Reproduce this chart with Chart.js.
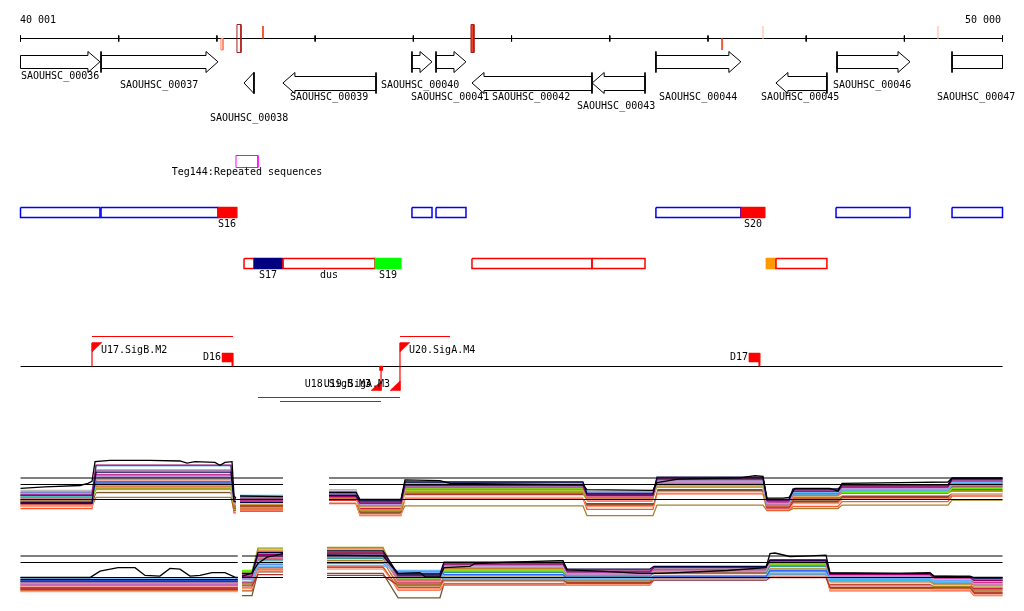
<!DOCTYPE html>
<html>
<head>
<meta charset="utf-8">
<title>SAOUHSC 40 001 - 50 000</title>
<script src="https://cdn.jsdelivr.net/npm/chart.js@4.4.0/dist/chart.umd.min.js"></script>
<style>
  html, body { margin: 0; padding: 0; background: #fff; }
  canvas { display: block; }
</style>
</head>
<body>
<canvas id="genomeView" width="1024" height="611"></canvas>
<script>
// REGION
const regionStart = 40001;
const regionEnd = 50000;
const axisTicks = [40001, 41001, 42001, 43001, 44001, 45001, 46001, 47001, 48001, 49001, 50000];

// GENES
const geneNames = ["SAOUHSC_00036", "SAOUHSC_00037", "SAOUHSC_00038", "SAOUHSC_00039", "SAOUHSC_00040", "SAOUHSC_00041",
  "SAOUHSC_00042", "SAOUHSC_00043", "SAOUHSC_00044", "SAOUHSC_00045", "SAOUHSC_00046", "SAOUHSC_00047"];
const geneStarts = [39940, 40821, 42277, 42673, 43987, 44232, 44598, 45822, 46471, 47693, 48315, 49486];
const geneEnds = [40810, 42012, 42378, 43621, 44191, 44537, 45820, 46360, 47336, 48212, 49058, 50420];
const geneStrands = [1, 1, -1, -1, 1, 1, -1, -1, 1, -1, 1, 1];
const geneLabelPos = [40001, 41014, 41930, 42745, 43672, 43978, 44802, 45667, 46502, 47540, 48274, 49333];
const geneLabelLane = [0, 1, 4, 2, 1, 2, 2, 3, 2, 2, 1, 2];

// SITES ON THE COORDINATE LINE
const siteStarts = [42042, 42205, 42470, 44588, 47145, 47561, 49343];
const siteEnds = [42063, 42246, 42470, 44618, 47145, 47611, 49343];
const siteSides = ["down", "both", "up", "both", "down", "up", "up"];
const siteKinds = ["light", "dark", "mid", "darkfill", "mid", "pale", "pale"];

// REPEAT
const repeatName = "Teg144:Repeated sequences";
const repeatStart = 42195;
const repeatEnd = 42419;

// TRANSCRIBED SEGMENTS
const segStarts = [40001, 40821, 42012, 43987, 44232, 46471, 47336, 48305, 49486, 42277, 42378, 42673, 43611, 44598, 45820, 47591, 47693];
const segEnds = [40810, 42012, 42205, 44191, 44537, 47336, 47581, 49058, 50000, 42378, 42673, 43611, 43876, 45820, 46360, 47693, 48212];
const segRows = [0, 0, 0, 0, 0, 0, 0, 0, 0, 1, 1, 1, 1, 1, 1, 1, 1];
const segKinds = ["open", "open", "red", "open", "open", "open", "red", "open", "open", "open", "navy", "open", "green", "open", "open", "orange", "open"];
const segLabels = ["", "", "S16", "", "", "", "S20", "", "", "", "S17", "dus", "S19", "", "", "", ""];

// PROMOTERS / TERMINATORS
const promoterNames = ["U17.SigB.M2", "U20.SigA.M4", "U18.SigB.M3", "U19.SigA.M3"];
const promoterPos = [40729, 43865, 43672, 43865];
const promoterStrands = [1, 1, -1, -1];
const promoterSpanEnds = [42165, 44374, 42643, 42419];
const promoterSpanLane = [0, 0, 2, 1];
const terminatorNames = ["D16", "D17"];
const terminatorPos = [42165, 47530];

// EXPRESSION, PANEL 1 (intervals A1 A2 A3 | B | C1..C9)
const expr1Starts = [40001, 40770, 42175, 42236, 43142, 43458, 43916, 45769, 46482, 47602, 47867, 48366, 49486];
const expr1Ends = [40729, 42144, 42195, 42674, 43417, 43875, 45728, 46441, 47561, 47826, 48325, 49445, 50000];
const expr1NewSeg = [1, 0, 0, 1, 1, 0, 0, 0, 0, 0, 0, 0, 0];
const expr1Navy = [-0.5, 3.9, -0.3, -0.4, 0.6, -0.2, 2.5, 0.8, 3.2, 0.0, 1.5, 2.1, 3.0];
const expr1Purple = [0.6, 4.9, 0.1, 0.0, 0.4, -0.5, 2.0, 0.6, 2.9, -0.2, 1.2, 1.8, 2.8];
const expr1LightBlue = [0.9, 4.8, 0.2, 0.5, 0.8, -0.4, 2.2, 1.1, 2.6, -0.6, 1.0, 1.4, 2.4];
const expr1Lilac = [1.1, 3.3, -0.2, 0.3, 1.2, -0.7, 1.9, 0.9, 2.5, -0.3, 1.3, 1.6, 2.7];
const expr1Orange = [0.3, 2.6, -0.8, -0.2, 0.2, -1.0, 1.5, 0.3, 2.3, -0.8, 0.6, 1.2, 2.2];
const expr1Vermilion = [-0.2, 2.2, -1.0, -0.6, -0.1, -1.4, 1.2, 0.0, 2.0, -1.0, 0.2, 0.9, 1.8];
const expr1Green = [0.4, 1.7, -0.4, 0.1, 0.5, -0.9, 1.6, 0.5, 2.1, -0.5, 0.8, 1.0, 1.6];
const expr1Olive = [0.1, 1.4, -1.2, -0.9, 0.0, -1.6, 1.0, -0.3, 1.7, -1.1, 0.1, 0.6, 1.3];
const expr1Brown = [-0.9, 0.3, -1.6, -1.7, -0.5, -2.0, -0.9, -2.3, -0.8, -1.6, -1.3, -0.8, -0.1];
const expr1Salmon = [-1.0, 2.4, -1.4, -1.2, -0.4, -2.2, 0.4, -1.0, 1.1, -1.4, -0.6, 0.2, 0.9];
const expr1Maroon = [-0.6, 2.0, -0.6, -0.8, 0.3, -1.2, 0.7, -0.6, 1.4, -1.2, -0.3, 0.4, 1.1];
const expr1Magenta = [0.7, 3.6, 0.0, -0.1, 0.7, -0.6, 1.8, 0.7, 2.7, -0.4, 0.9, 1.5, 2.5];
const expr1Gray = [1.3, 3.0, -0.5, 0.2, 1.4, -0.1, 2.4, 1.2, 2.8, 0.0, 1.4, 1.9, 2.9];
const expr1White = [0.2, 1.2, -0.7, -0.5, -0.3, -1.1, 0.5, -0.4, 1.6, -0.7, 0.4, 0.7, 1.0];
const expr1Tomato = [-1.3, 1.9, -1.9, -1.5, -0.6, -2.3, 0.2, -1.4, 0.8, -1.5, -1.0, -0.3, 0.5];
const expr1DarkBrown = [-0.3, 1.0, -1.3, -1.0, 0.1, -1.8, 0.9, -0.8, 1.3, -0.9, -0.1, 0.3, 1.4];
const expr1Cyan = [0.5, 2.9, 0.3, 0.6, 0.9, -0.3, 2.1, 1.0, 2.2, -0.2, 0.7, 1.3, 2.0];
const expr1Pink = [-0.8, 2.8, -1.1, -1.1, -0.2, -1.3, 1.3, -0.2, 1.9, -1.3, 0.0, 0.8, 1.7];
const expr1Sand = [-0.1, 1.5, -0.9, -0.7, 0.4, -1.5, 1.1, 0.2, 1.8, -0.9, 0.5, 1.1, 2.1];
const expr1Teal = [0.0, 2.3, -0.6, -0.3, 0.5, -0.8, 1.4, 0.4, 2.4, -0.6, 0.7, 1.3, 2.3];
const expr1Crimson = [-0.4, 3.1, -0.9, -0.9, -0.2, -1.3, 1.7, 0.1, 2.6, -1.1, 0.3, 1.0, 1.9];
const expr1Lime = [0.8, 2.0, -0.3, 0.0, 0.6, -1.0, 1.3, 0.6, 2.0, -0.4, 1.1, 1.2, 2.4];
const expr1Blue = [0.6, 2.5, 0.0, 0.4, 1.1, -0.2, 2.0, 0.9, 2.9, -0.1, 1.0, 1.7, 2.6];
const expr1Rust = [-0.7, 1.6, -1.5, -1.3, -0.3, -1.9, 0.6, -0.7, 1.2, -1.3, -0.5, 0.1, 0.8];
const expr1Rose = [0.2, 3.4, -0.4, -0.2, 0.3, -0.9, 1.7, 0.4, 2.4, -0.7, 0.6, 1.4, 2.5];
const expr1Khaki = [-0.2, 1.1, -1.0, -0.8, -0.1, -1.7, 0.8, -0.5, 1.5, -1.0, 0.2, 0.5, 1.2];
const expr1Plum = [1.0, 4.2, 0.1, 0.2, 0.9, -0.5, 2.2, 1.0, 3.0, -0.2, 1.2, 2.0, 2.9];
// black trace of panel 1 (null = gap)
const expr1TracePos = [40001, 40250, 40607, 40688, 40729, 40760, 40912, 41320, 41625, 41696, 41778, 41981, 42032, 42083, 42155, 42175, 42195, 42195,
  42236, 42674, 42674,
  43142, 43417, 43458, 43875, 43916, 44272, 44374, 45728, 45769, 46441, 46482, 46696, 47327, 47480, 47561,
  47602, 47765, 47826, 47887, 48243, 48325, 48366, 48956, 49445, 49486, 50000];
const expr1TraceVal = [1.6, 1.8, 2.0, 2.3, 2.6, 5.4, 5.6, 5.6, 5.5, 5.2, 5.4, 5.3, 4.9, 5.3, 5.4, 0.5, 0.2, null,
  0.5, 0.4, null,
  1.0, 1.0, 0.0, 0.0, 2.8, 2.7, 2.3, 2.1, 1.4, 1.3, 2.4, 2.9, 3.1, 3.4, 3.3,
  0.2, 0.2, 0.3, 1.6, 1.6, 1.2, 2.3, 2.4, 2.5, 3.1, 3.1];

// EXPRESSION, PANEL 2 (intervals A | B1 B2 | C1..C9)
const expr2Starts = [40001, 42256, 42419, 43122, 43845, 44313, 45566, 46451, 47632, 48243, 49302, 49710];
const expr2Ends = [42213, 42358, 42674, 43692, 44272, 45525, 46410, 47592, 48203, 49262, 49669, 50000];
const expr2NewSeg = [1, 1, 0, 1, 0, 0, 0, 0, 0, 0, 0, 0];
const expr2Navy = [-0.3, 0.6, 3.6, 3.8, 0.5, 2.2, 1.2, 1.6, 2.5, 0.6, 0.2, -0.1];
const expr2Purple = [-0.6, 0.2, 3.3, 3.5, 0.3, 1.9, 0.9, 1.4, 2.4, 0.4, 0.0, -0.4];
const expr2LightBlue = [-0.2, -0.6, 1.6, 1.7, 1.0, -0.1, -0.2, -0.3, 0.5, -0.2, -0.5, -0.2];
const expr2Lilac = [-0.9, -0.2, 2.9, 3.0, 0.0, 1.5, 0.5, 0.9, 2.2, 0.1, -0.6, -0.9];
const expr2Orange = [-0.8, 0.4, 3.9, 4.1, -0.3, 1.2, 0.3, 1.0, 2.0, -0.3, -0.8, -1.1];
const expr2Vermilion = [-1.3, -0.5, 2.6, 2.8, -0.8, 0.8, 0.0, 0.6, 1.7, -0.7, -1.0, -1.5];
const expr2Green = [-0.4, 1.0, 3.4, 3.7, -0.1, 1.0, 0.4, 1.2, 1.9, -0.1, -0.4, -0.6];
const expr2Olive = [-1.1, 0.8, 4.2, 4.3, -0.5, 1.3, 0.6, 0.7, 2.1, -0.5, -0.9, -1.3];
const expr2Brown = [-1.5, -0.9, 2.2, 2.4, -1.2, 0.5, -0.5, 0.2, 1.4, -1.0, -1.3, -1.8];
const expr2Salmon = [-2.0, -1.6, 1.0, 1.2, -1.6, -0.6, -1.0, -0.2, 0.2, -1.8, -1.7, -2.5];
const expr2Maroon = [-1.7, -1.2, 0.4, 0.3, -1.1, -0.2, -0.8, -0.4, 0.0, -1.4, -1.4, -2.1];
const expr2Magenta = [-1.0, 0.0, 3.0, 3.2, 0.2, 1.7, 0.7, 1.1, 2.3, 0.2, -0.2, -0.7];
const expr2Gray = [-0.7, 0.3, 2.0, 2.2, 0.4, 1.8, 1.0, 1.3, 2.4, 0.3, -0.3, -0.5];
const expr2White = [-1.2, -0.4, 2.4, 2.6, -0.6, 0.6, 0.1, 0.5, 1.5, -0.8, -1.1, -1.2];
const expr2Tomato = [-1.9, -1.5, 1.4, 1.6, -1.8, -1.1, -1.1, -0.3, 0.6, -1.9, -1.9, -2.6];
const expr2DarkBrown = [-1.6, -2.6, 0.8, 0.6, -2.9, -0.9, -0.9, -0.1, 0.4, -1.6, -1.6, -2.3];
const expr2Cyan = [-0.5, -0.3, 1.8, 2.0, 0.6, -0.3, -0.3, 0.0, 0.8, -0.4, -0.7, -0.3];
const expr2Pink = [-1.4, -0.8, 2.8, 3.0, -0.9, 0.3, -0.4, 0.4, 1.2, -1.2, -1.2, -1.9];
const expr2Sand = [-1.0, -0.1, 3.1, 3.4, -0.4, 0.9, 0.2, 0.8, 1.8, -0.6, -1.0, -1.4];
const expr2Teal = [-0.8, 0.1, 2.5, 2.7, -0.2, 0.7, 0.2, 0.6, 1.6, -0.4, -0.7, -1.0];
const expr2Crimson = [-1.5, -0.7, 2.9, 3.1, -0.7, 1.0, 0.1, 0.7, 1.9, -0.9, -1.1, -1.6];
const expr2Lime = [-0.3, 0.7, 3.7, 3.9, 0.1, 1.1, 0.5, 1.1, 2.0, 0.0, -0.3, -0.8];
const expr2Blue = [-0.4, -0.1, 1.9, 2.1, 0.8, 0.4, 0.0, 0.1, 1.0, -0.1, -0.4, -0.3];
const expr2Rust = [-1.8, -1.9, 1.2, 1.4, -1.4, -0.4, -0.7, 0.0, 0.9, -1.5, -1.5, -2.2];
const expr2Rose = [-1.1, -0.6, 2.7, 2.9, -0.5, 1.4, 0.4, 0.9, 2.1, -0.2, -0.5, -1.0];
const expr2Khaki = [-1.3, -1.0, 3.5, 3.6, -1.0, 0.2, -0.3, 0.3, 1.3, -1.1, -1.2, -1.7];
const expr2Plum = [-0.6, 0.5, 3.2, 3.3, 0.1, 2.0, 0.8, 1.5, 2.3, 0.5, 0.1, -0.4];
// black trace of panel 2 (null = gap)
const expr2TracePos = [40001, 40709, 40811, 40994, 41167, 41269, 41421, 41523, 41625, 41727, 41829, 41951, 42083, 42195, 42213, 42213,
  42256, 42358, 42419, 42511, 42674, 42674,
  43122, 43692, 43845, 44069, 44120, 44272, 44313, 44578, 44629, 44985, 45494, 45525, 45566, 45902, 46309, 46512, 47200, 47592,
  47632, 47683, 47836, 48040, 48203, 48243, 48956, 49262, 49302, 49669, 49710, 50000];
const expr2TraceVal = [0.0, 0.0, 0.9, 1.4, 1.4, 0.3, 0.2, 1.3, 1.2, 0.2, 0.3, 0.7, 0.7, 0.0, 0.0, null,
  0.2, 0.6, 2.0, 2.9, 3.4, null,
  3.2, 3.1, 0.6, 0.7, 0.1, 0.1, 1.4, 1.6, 2.0, 2.2, 2.4, 2.4, 1.1, 0.9, 0.6, 0.6, 1.0, 1.4,
  3.4, 3.5, 3.0, 3.1, 3.2, 0.7, 0.6, 0.7, 0.2, 0.1, 0.0, 0.0];

// reference lines of both panels
const thresholdLevels = [0, 2.14, 3.07];
const thr1Starts = [40001, 43142];
const thr1Ends = [42674, 50000];
const thr2Starts = [40001, 42256, 43122];
const thr2Ends = [42213, 42674, 50000];

// LAYOUT AND STYLE
const W = 1024, H = 611;
const X_PX_START = 20.5, X_PX_END = 1002.5;
const bpPerPx = (regionEnd - regionStart) / (X_PX_END - X_PX_START);
const xMin = regionStart - X_PX_START * bpPerPx;
const xMax = xMin + W * bpPerPx;
const bp = (n) => n * bpPerPx;
const FONT = '10px "DejaVu Sans Mono", monospace';

const AXIS_Y = 38.5;
const ROWS = [
  { headTop: 51.5, bodyTop: 55.5, mid: 61.8, bodyBot: 68.5, headBot: 72.5 },
  { headTop: 72.5, bodyTop: 76.5, mid: 83, bodyBot: 90.5, headBot: 93.5 },
];
const LABEL_LANES = [76, 85, 97, 106, 118];
const HEAD_PX = 12;
const SEG_ROWS = [{ top: 207.5, bot: 217.5, label: 224, line: "#0000ff" }, { top: 258.5, bot: 268.5, label: 275, line: "#ff0000" }];
const SEG_FILL = { red: "#ff0000", navy: "#000080", green: "#00ff00", orange: "#ff9900" };
const SITE_STYLE = {
  light: { color: "#ff8060", w: 1, box: true },
  dark: { color: "#aa1a1a", w: 1, box: true },
  mid: { color: "#f05a3c", w: 2, box: false },
  darkfill: { color: "#aa1a1a", w: 1, box: true, fill: "#ee4422" },
  pale: { color: "#ffd9c8", w: 2, box: false },
};
const SITE_Y = { up: [26, 38.5], down: [38.5, 50], both: [24.5, 52.5] };
const PROM_BASE = 366.5;
const SPAN_LANES = [336.5, 397.5, 401.5];
const EXPR_UNIT = 7;
const EXPR1_BASE = 499.5, EXPR2_BASE = 577.5;
const EXPR_WIDTH = 1.3;

const datasets = [];
function pushLine(points, color, width, axis, fillColor) {
  datasets.push({
    type: "line",
    data: points,
    yAxisID: axis || "y",
    borderColor: color,
    borderWidth: width,
    backgroundColor: fillColor || "rgba(0,0,0,0)",
    fill: fillColor ? "shape" : false,
    pointRadius: 0,
    tension: 0,
    spanGaps: false,
    order: -datasets.length,
  });
}
const P = (x, y) => ({ x: x, y: y });
const GAP = { x: regionStart, y: null };
function rect(x1, x2, y1, y2) {
  return [P(x1, y1), P(x2, y1), P(x2, y2), P(x1, y2), P(x1, y1)];
}

// EXPRESSION LINES
function intervalPoints(starts, ends, newSeg, levels) {
  const pts = [];
  levels.forEach((v, i) => {
    if (newSeg[i] && pts.length) pts.push(GAP);
    pts.push(P(starts[i], v), P(ends[i], v));
  });
  return pts;
}
const panel1 = [
  [expr1Brown, "#a8802a"], [expr1Tomato, "#ff5533"], [expr1Rust, "#bb5511"], [expr1Salmon, "#ff9977"],
  [expr1Pink, "#ff88aa"], [expr1Khaki, "#bbaa55"], [expr1Maroon, "#aa3333"], [expr1DarkBrown, "#775533"],
  [expr1Olive, "#999900"], [expr1Vermilion, "#e8502a"], [expr1Crimson, "#cc2244"], [expr1White, "#ffffff"],
  [expr1Sand, "#cc9944"], [expr1Teal, "#339999"], [expr1Orange, "#dd7722"], [expr1Green, "#66ee00"],
  [expr1Lime, "#aacc33"], [expr1Cyan, "#33bbee"], [expr1Rose, "#dd6688"], [expr1Magenta, "#cc3399"],
  [expr1Blue, "#3366ff"], [expr1Lilac, "#bb99dd"], [expr1Gray, "#bbbbbb"], [expr1Plum, "#885599"],
  [expr1LightBlue, "#66bbff"], [expr1Purple, "#990066"], [expr1Navy, "#000044"],
];
panel1.forEach(([levels, color]) => pushLine(intervalPoints(expr1Starts, expr1Ends, expr1NewSeg, levels), color, EXPR_WIDTH, "e1"));
pushLine(expr1TracePos.map((x, i) => P(x, expr1TraceVal[i])), "#000000", EXPR_WIDTH, "e1");

const panel2 = [
  [expr2DarkBrown, "#775533"], [expr2Tomato, "#ff5533"], [expr2Rust, "#bb5511"], [expr2Salmon, "#ff9977"],
  [expr2Pink, "#ff88aa"], [expr2Khaki, "#bbaa55"], [expr2Maroon, "#aa3333"], [expr2Brown, "#a8802a"],
  [expr2Olive, "#999900"], [expr2Vermilion, "#e8502a"], [expr2Crimson, "#cc2244"], [expr2White, "#ffffff"],
  [expr2Sand, "#cc9944"], [expr2Teal, "#339999"], [expr2Orange, "#dd7722"], [expr2Green, "#66ee00"],
  [expr2Lime, "#aacc33"], [expr2Cyan, "#33bbee"], [expr2Rose, "#dd6688"], [expr2Magenta, "#cc3399"],
  [expr2Blue, "#3366ff"], [expr2Lilac, "#bb99dd"], [expr2Gray, "#bbbbbb"], [expr2Plum, "#885599"],
  [expr2LightBlue, "#66bbff"], [expr2Purple, "#990066"], [expr2Navy, "#000044"],
];
panel2.forEach(([levels, color]) => pushLine(intervalPoints(expr2Starts, expr2Ends, expr2NewSeg, levels), color, EXPR_WIDTH, "e2"));
pushLine(expr2TracePos.map((x, i) => P(x, expr2TraceVal[i])), "#000000", EXPR_WIDTH, "e2");

function thresholdPoints(starts, ends) {
  const pts = [];
  thresholdLevels.forEach((lv) => {
    starts.forEach((s, i) => {
      pts.push(P(s, lv), P(ends[i], lv), GAP);
    });
  });
  return pts;
}
pushLine(thresholdPoints(thr1Starts, thr1Ends), "#000000", 1.2, "e1");
pushLine(thresholdPoints(thr2Starts, thr2Ends), "#000000", 1.2, "e2");

// COORDINATE LINE
const axisPts = [P(regionStart, AXIS_Y), P(regionEnd, AXIS_Y)];
axisTicks.forEach((t) => axisPts.push(GAP, P(t, 35.5), P(t, 41.5)));
pushLine(axisPts, "#000000", 1);

siteStarts.forEach((s, i) => {
  const st = SITE_STYLE[siteKinds[i]];
  const [y1, y2] = SITE_Y[siteSides[i]];
  if (st.box) {
    pushLine(rect(s, siteEnds[i], y1, y2), st.color, st.w, "y", st.fill);
  } else {
    pushLine([P(s, y1), P(s, y2)], st.color, st.w);
  }
});

// GENE ARROWS
geneNames.forEach((name, i) => {
  const fwd = geneStrands[i] > 0;
  const r = ROWS[fwd ? 0 : 1];
  const cutS = geneStarts[i] < regionStart;
  const cutE = geneEnds[i] > regionEnd;
  const s = Math.max(geneStarts[i], regionStart);
  const e = Math.min(geneEnds[i], regionEnd);
  const h = Math.min(bp(HEAD_PX), e - s);
  let pts;
  if (fwd) {
    pts = cutE ? rect(s, e, r.bodyTop, r.bodyBot)
      : [P(s, r.bodyTop), P(e - h, r.bodyTop), P(e - h, r.headTop), P(e, r.mid), P(e - h, r.headBot), P(e - h, r.bodyBot), P(s, r.bodyBot), P(s, r.bodyTop)];
    if (!cutS) pts.push(GAP, P(s, r.headTop), P(s, r.headBot));
  } else {
    pts = cutS ? rect(s, e, r.bodyTop, r.bodyBot)
      : [P(e, r.bodyTop), P(s + h, r.bodyTop), P(s + h, r.headTop), P(s, r.mid), P(s + h, r.headBot), P(s + h, r.bodyBot), P(e, r.bodyBot), P(e, r.bodyTop)];
    if (!cutE) pts.push(GAP, P(e, r.headTop), P(e, r.headBot));
  }
  pushLine(pts, "#000000", 1);
});

// REPEAT
pushLine(rect(repeatStart, repeatEnd, 155.5, 167.5), "#ff00ff", 1);

// SEGMENTS
segStarts.forEach((s, i) => {
  const row = SEG_ROWS[segRows[i]];
  const kind = segKinds[i];
  if (kind === "open") {
    pushLine(rect(s, segEnds[i], row.top, row.bot), row.line, 1.5);
  } else {
    pushLine(rect(s, segEnds[i], row.top - 0.5, row.bot + 0.5), SEG_FILL[kind], 0.5, "y", SEG_FILL[kind]);
  }
});

// PROMOTERS AND TERMINATORS
pushLine([P(regionStart, PROM_BASE), P(regionEnd, PROM_BASE)], "#000000", 1.2);
promoterPos.forEach((p, i) => {
  const fwd = promoterStrands[i] > 0;
  const spanY = SPAN_LANES[promoterSpanLane[i]];
  const a = Math.min(p, promoterSpanEnds[i]);
  const b = Math.max(p, promoterSpanEnds[i]);
  pushLine([P(a, spanY), P(b, spanY)], "#ff0000", 1.2);
  if (fwd) {
    pushLine([P(p, 343), P(p, PROM_BASE)], "#ff0000", 1.2);
    pushLine([P(p, 342.5), P(p + bp(10), 342.5), P(p, 352), P(p, 342.5)], "#ff0000", 0.5, "y", "#ff0000");
  } else {
    pushLine([P(p, PROM_BASE), P(p, 390.5)], "#ff0000", 1.2);
    pushLine([P(p, 390.5), P(p - bp(10), 390.5), P(p, 381), P(p, 390.5)], "#ff0000", 0.5, "y", "#ff0000");
  }
});
pushLine(rect(promoterPos[2] - bp(1.5), promoterPos[2] + bp(1.5), 366, 370.5), "#ff0000", 0.5, "y", "#ff0000");
terminatorPos.forEach((t) => {
  pushLine(rect(t - bp(11), t, 353, 362), "#ff0000", 0.5, "y", "#ff0000");
  pushLine([P(t - bp(0.5), 362), P(t - bp(0.5), PROM_BASE)], "#ff0000", 2);
});

// TEXT
const labels = [];
labels.push({ text: "40 001", pos: regionStart, dx: -0.5, y: 20, align: "left" });
labels.push({ text: "50 000", pos: regionEnd, dx: -2, y: 20, align: "right" });
geneNames.forEach((n, i) => labels.push({ text: n, pos: geneLabelPos[i], dx: 0, y: LABEL_LANES[geneLabelLane[i]], align: "left" }));
labels.push({ text: repeatName, pos: (repeatStart + repeatEnd) / 2, dx: 0, y: 172, align: "center" });
segLabels.forEach((l, i) => {
  if (l) labels.push({ text: l, pos: (segStarts[i] + segEnds[i]) / 2, dx: 0, y: SEG_ROWS[segRows[i]].label, align: "center" });
});
promoterNames.forEach((n, i) => {
  if (promoterStrands[i] > 0) labels.push({ text: n, pos: promoterPos[i], dx: 9, y: 350, align: "left" });
  else labels.push({ text: n, pos: promoterPos[i], dx: -10, y: 384, align: "right" });
});
terminatorNames.forEach((n, i) => labels.push({ text: n, pos: terminatorPos[i], dx: -12, y: 357, align: "right" }));

const labelPlugin = {
  id: "trackLabels",
  afterDatasetsDraw(chart) {
    const ctx = chart.ctx;
    const xs = chart.scales.x;
    const ys = chart.scales.y;
    ctx.save();
    ctx.font = FONT;
    ctx.fillStyle = "#000000";
    ctx.textBaseline = "middle";
    labels.forEach((l) => {
      ctx.textAlign = l.align;
      ctx.fillText(l.text, Math.round(xs.getPixelForValue(l.pos) + l.dx), Math.round(ys.getPixelForValue(l.y)));
    });
    ctx.restore();
  },
};

const e1Min = -(H - EXPR1_BASE) / EXPR_UNIT;
const e2Min = -(H - EXPR2_BASE) / EXPR_UNIT;

new Chart(document.getElementById("genomeView"), {
  type: "line",
  data: { datasets: datasets },
  options: {
    responsive: false,
    animation: false,
    events: [],
    layout: { padding: 0 },
    plugins: { legend: { display: false }, tooltip: { enabled: false } },
    scales: {
      x: { type: "linear", min: xMin, max: xMax, display: false },
      y: { type: "linear", min: 0, max: H, reverse: true, display: false },
      e1: { type: "linear", min: e1Min, max: e1Min + H / EXPR_UNIT, display: false },
      e2: { type: "linear", min: e2Min, max: e2Min + H / EXPR_UNIT, display: false },
    },
  },
  plugins: [labelPlugin],
});
</script>
</body>
</html>
